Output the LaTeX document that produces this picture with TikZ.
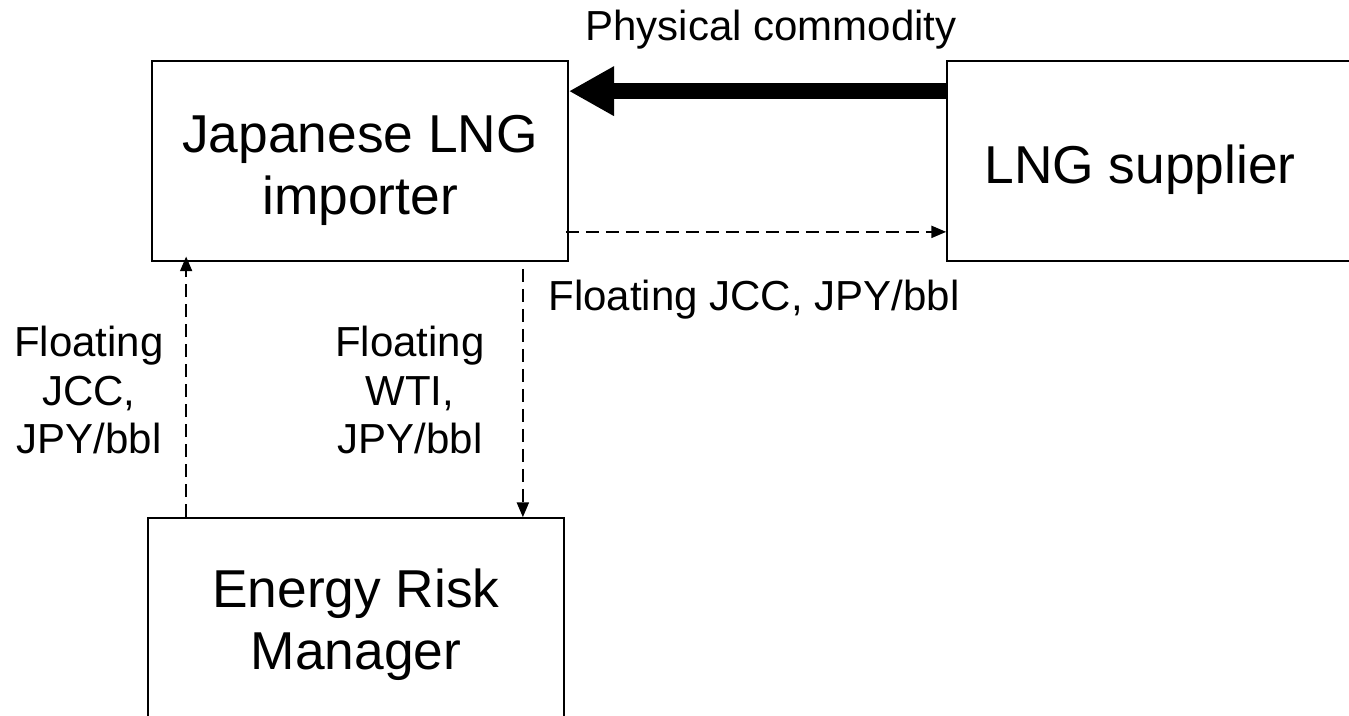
\documentclass[tikz,border=0pt]{standalone}
\usepackage{fontspec}
\setmainfont{Liberation Sans}
\usetikzlibrary{arrows.meta,calc}
\begin{document}
\begin{tikzpicture}[x=0.75pt,y=-0.75pt,
  party/.style={draw,line width=1.3pt,minimum width=312pt,minimum height=150pt,inner sep=0pt},
  ptxt/.style={align=center,font=\fontsize{40}{46.5}\selectfont},
  lbl/.style={align=center,font=\fontsize{31.5}{36.5}\selectfont},
  pay/.style={line width=1.3pt,dash pattern=on 10pt off 5pt,-{Triangle[length=11pt,width=9pt]}}]
\useasboundingbox (0,0) rectangle (1349,715);
\clip (0,0) rectangle (1349,715);
\node[party] (imp) at (360,161) {};
\node[ptxt] (impt) at ($(imp)+(0,9)$) {Japanese LNG\\importer};
\node[party] (sup) at (1155,161) {};
\node[ptxt] (supt) at ($(sup)+(-15,9)$) {LNG supplier};
\node[party] (erm) at (356,618) {};
\node[ptxt] (ermt) at ($(erm)+(0,7)$) {Energy Risk\\Manager};
% physical flow
\coordinate (pc) at ($(sup.north west)+(0,31)$);
\draw[line width=12pt,-{Triangle[length=34pt,width=35pt]}] (pc) -- (pc -| imp.east);
\node[lbl] (pclab) at (771,30) {Physical commodity};
% payments
\coordinate (sw) at ($(imp.south east)+(-3,-30)$);
\draw[pay] (sw) -- (sw -| sup.west);
\node[lbl] (swlab) at (754,300) {Floating JCC, JPY/bbl};
\coordinate (up) at ($(erm.north west)+(39,0)$);
\draw[pay,shorten >=-4pt] (up) -- (up |- imp.south);
\node[lbl] (uplab) at (89,390) {Floating\\JCC,\\JPY/bbl};
\coordinate (dn) at ($(imp.south east)+(-46,7)$);
\draw[pay] (dn) -- (dn |- erm.north);
\node[lbl] (dnlab) at (410,390) {Floating\\WTI,\\JPY/bbl};
\end{tikzpicture}
\end{document}
